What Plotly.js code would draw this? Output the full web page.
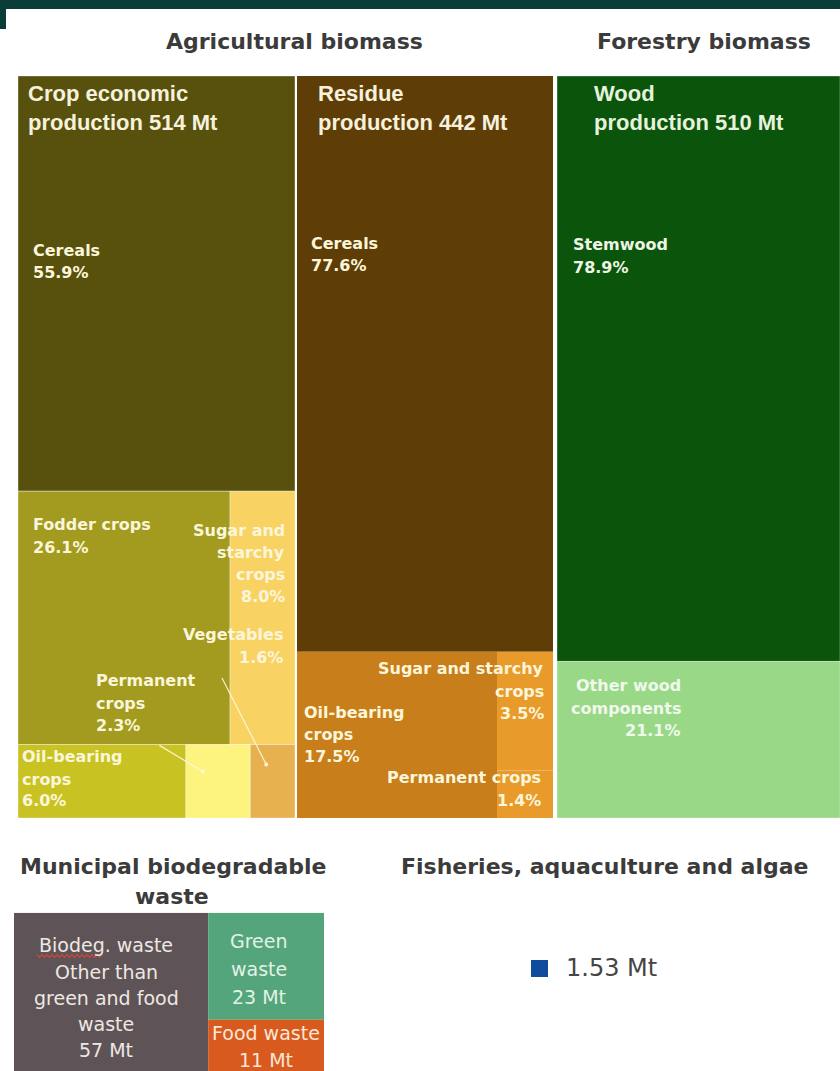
<!DOCTYPE html>
<html>
<head>
<meta charset="utf-8">
<script src="https://cdn.plot.ly/plotly-3.0.1.min.js"></script>
<style>
  html, body { margin: 0; padding: 0; background: #ffffff; }
  #chart { width: 840px; height: 1071px; }
</style>
</head>
<body>
<div id="chart"></div>
<script>
// ---------------------------------------------------------------
// Data
// ---------------------------------------------------------------
// Agricultural biomass - crop economic production (share of total, %)
const cropTotalMt = 514;
const cropCategories = ['Cereals', 'Fodder crops', 'Sugar and starchy crops', 'Vegetables', 'Permanent crops', 'Oil-bearing crops'];
const cropShares = [55.9, 26.1, 8.0, 1.6, 2.3, 6.0];

// Agricultural biomass - residue production (share of total, %)
const residueTotalMt = 442;
const residueCategories = ['Cereals', 'Oil-bearing crops', 'Sugar and starchy crops', 'Permanent crops'];
const residueShares = [77.6, 17.5, 3.5, 1.4];

// Forestry biomass - wood production (share of total, %)
const woodTotalMt = 510;
const woodCategories = ['Stemwood', 'Other wood components'];
const woodShares = [78.9, 21.1];

// Municipal biodegradable waste (Mt)
const wasteCategories = ['Biodeg. waste other than green and food waste', 'Green waste', 'Food waste'];
const wasteMt = [57, 23, 11];

// Fisheries, aquaculture and algae (Mt)
const fisheriesMt = 1.53;

// ---------------------------------------------------------------
// Helpers
// ---------------------------------------------------------------
const W = 840, H = 1071;
const sum = a => a.reduce((s, v) => s + v, 0);
const pick = (cats, vals, name) => vals[cats.indexOf(name)];
const pct = v => v.toFixed(1) + '%';

// Lay out a list of names side by side across a horizontal band [y0, y1]
function sliceRow(names, valueOf, x0, x1, y0, y1, out) {
  const total = sum(names.map(valueOf));
  let x = x0;
  names.forEach(n => {
    const w = (x1 - x0) * valueOf(n) / total;
    out[n] = { x0: x, x1: x + w, y0, y1 };
    x += w;
  });
}
// Stack a list of names from top to bottom inside a vertical band [x0, x1]
function sliceCol(names, valueOf, x0, x1, y0, y1, out) {
  const total = sum(names.map(valueOf));
  let y = y0;
  names.forEach(n => {
    const h = (y1 - y0) * valueOf(n) / total;
    out[n] = { x0, x1, y0: y, y1: y + h };
    y += h;
  });
}

// Crop economic production: cereals on top, two rows underneath
function cropCells() {
  const v = n => pick(cropCategories, cropShares, n);
  const cells = {};
  const yC = v('Cereals') / sum(cropShares);
  cells['Cereals'] = { x0: 0, x1: 1, y0: 0, y1: yC };
  const upper = ['Fodder crops', 'Sugar and starchy crops'];
  const lower = ['Oil-bearing crops', 'Permanent crops', 'Vegetables'];
  const su = sum(upper.map(v)), sl = sum(lower.map(v));
  const yRow = yC + (1 - yC) * su / (su + sl);
  sliceRow(upper, v, 0, 1, yC, yRow, cells);
  sliceRow(lower, v, 0, 1, yRow, 1, cells);
  return cells;
}

// Residue production: cereals on top, oil-bearing left, small items stacked right
function residueCells() {
  const v = n => pick(residueCategories, residueShares, n);
  const cells = {};
  const yC = v('Cereals') / sum(residueShares);
  cells['Cereals'] = { x0: 0, x1: 1, y0: 0, y1: yC };
  const right = ['Sugar and starchy crops', 'Permanent crops'];
  const sr = sum(right.map(v));
  const xSplit = v('Oil-bearing crops') / (v('Oil-bearing crops') + sr);
  cells['Oil-bearing crops'] = { x0: 0, x1: xSplit, y0: yC, y1: 1 };
  sliceCol(right, v, xSplit, 1, yC, 1, cells);
  return cells;
}

function woodCells() {
  const v = n => pick(woodCategories, woodShares, n);
  const cells = {};
  sliceCol(woodCategories, v, 0, 1, 0, 1, cells);
  return cells;
}

function wasteCells() {
  const v = n => pick(wasteCategories, wasteMt, n);
  const cells = {};
  const xSplit = wasteMt[0] / sum(wasteMt);
  cells[wasteCategories[0]] = { x0: 0, x1: xSplit, y0: 0, y1: 1 };
  sliceCol(wasteCategories.slice(1), v, xSplit, 1, 0, 1, cells);
  return cells;
}

const shapes = [];
const annotations = [];

function addCells(axisId, cells, colors, edge) {
  const yId = axisId.replace('x', 'y');
  Object.keys(colors).forEach(name => {
    const c = cells[name];
    shapes.push({
      type: 'rect', xref: axisId, yref: yId,
      x0: c.x0, x1: c.x1, y0: c.y0, y1: c.y1,
      fillcolor: colors[name],
      line: edge ? { color: edge, width: 1 } : { width: 0 },
      layer: 'below'
    });
  });
}

// Multi-line label: one annotation per line so the line spacing is exact
function addLabel(axisId, cell, o) {
  const yId = axisId.replace('x', 'y');
  const side = o.side || 'left';
  const x = side === 'left' ? cell.x0 : side === 'right' ? cell.x1 : (cell.x0 + cell.x1) / 2;
  o.lines.forEach((t, i) => {
    annotations.push({
      xref: axisId, yref: yId, x: x, y: cell.y0,
      xanchor: side, yanchor: 'middle',
      xshift: o.dx || 0, yshift: -o.dy[i],
      text: t, showarrow: false, borderpad: 0,
      font: {
        family: o.family || 'DejaVu Sans', size: o.size || 16,
        weight: o.weight || 'bold', color: o.color || '#fbf6da'
      }
    });
  });
}

function addPointer(axisId, cell, dx, dy, ax, ay) {
  const yId = axisId.replace('x', 'y');
  annotations.push({
    xref: axisId, yref: yId, x: cell.x0, y: cell.y0,
    xshift: dx, yshift: -dy, text: '', showarrow: true,
    ax: ax, ay: ay, arrowhead: 6, arrowsize: 0.8, arrowwidth: 1.2,
    arrowcolor: 'rgba(255,250,225,0.9)', standoff: 0, startstandoff: 0
  });
}

// ---------------------------------------------------------------
// Agricultural biomass - crop economic production (axis x / y)
// ---------------------------------------------------------------
const crop = cropCells();
addCells('x', crop, {
  'Cereals': '#57510d',
  'Fodder crops': '#a29b1f',
  'Sugar and starchy crops': '#f9d264',
  'Oil-bearing crops': '#c8c323',
  'Permanent crops': '#fcf47f',
  'Vegetables': '#e8b150'
}, 'rgba(255,255,255,0.35)');
const cv = n => pick(cropCategories, cropShares, n);
addLabel('x', crop['Cereals'], { family: 'Liberation Sans', size: 22, weight: 'bold', color: '#f6f1dc',
  dx: 9, dy: [18, 47], lines: ['Crop economic', 'production ' + cropTotalMt + ' Mt'] });
addLabel('x', crop['Cereals'], { dx: 14, dy: [175, 196], lines: ['Cereals', pct(cv('Cereals'))] });
addLabel('x', crop['Fodder crops'], { dx: 14, dy: [33, 56], lines: ['Fodder crops', pct(cv('Fodder crops'))] });
addLabel('x', crop['Sugar and starchy crops'], { side: 'right', dx: -9, dy: [39, 61, 83, 105],
  lines: ['Sugar and', 'starchy', 'crops', pct(cv('Sugar and starchy crops'))] });
addLabel('x', crop['Vegetables'], { side: 'right', dx: -11, dy: [-110, -87],
  lines: ['Vegetables', pct(cv('Vegetables'))] });
addLabel('x', crop['Permanent crops'], { dx: -91, dy: [-64, -41, -19],
  lines: ['Permanent', 'crops', pct(cv('Permanent crops'))] });
addLabel('x', crop['Oil-bearing crops'], { dx: 3, dy: [12.5, 35.5, 56.5],
  lines: ['Oil-bearing', 'crops', pct(cv('Oil-bearing crops'))] });
addPointer('x', crop['Vegetables'], 16, 20, -45, -88);
addPointer('x', crop['Permanent crops'], 17, 27, -45, -27);

// ---------------------------------------------------------------
// Agricultural biomass - residue production (axis x2 / y2)
// ---------------------------------------------------------------
const res = residueCells();
addCells('x2', res, {
  'Cereals': '#5f3d07',
  'Oil-bearing crops': '#c87e1a',
  'Sugar and starchy crops': '#e89b2a',
  'Permanent crops': '#e89b2a'
});
const rv = n => pick(residueCategories, residueShares, n);
addLabel('x2', res['Cereals'], { family: 'Liberation Sans', size: 22, weight: 'bold', color: '#f6f1dc',
  dx: 20, dy: [18, 47], lines: ['Residue', 'production ' + residueTotalMt + ' Mt'] });
addLabel('x2', res['Cereals'], { dx: 13, dy: [168, 189], lines: ['Cereals', pct(rv('Cereals'))] });
addLabel('x2', res['Sugar and starchy crops'], { side: 'right', dx: -8, dy: [17, 40, 62],
  lines: ['Sugar and starchy', 'crops', pct(rv('Sugar and starchy crops'))] });
addLabel('x2', res['Oil-bearing crops'], { dx: 6, dy: [61, 83, 105],
  lines: ['Oil-bearing', 'crops', pct(rv('Oil-bearing crops'))] });
addLabel('x2', res['Permanent crops'], { side: 'right', dx: -11, dy: [7, 30],
  lines: ['Permanent crops', pct(rv('Permanent crops'))] });

// ---------------------------------------------------------------
// Forestry biomass - wood production (axis x3 / y3)
// ---------------------------------------------------------------
const wood = woodCells();
addCells('x3', wood, {
  'Stemwood': '#0b540b',
  'Other wood components': '#98d886'
}, 'rgba(255,255,255,0.35)');
const wv = n => pick(woodCategories, woodShares, n);
addLabel('x3', wood['Stemwood'], { family: 'Liberation Sans', size: 22, weight: 'bold', color: '#e6f2de',
  dx: 36, dy: [18, 47], lines: ['Wood', 'production ' + woodTotalMt + ' Mt'] });
addLabel('x3', wood['Stemwood'], { dx: 15, dy: [169, 191], color: '#eef6e6',
  lines: ['Stemwood', pct(wv('Stemwood'))] });
{
  const c = wood['Other wood components'];
  addLabel('x3', { x0: c.x0, x1: c.x0, y0: c.y0 }, { side: 'right', dx: 125, dy: [24, 47, 69], color: '#f0f9ec',
    lines: ['Other wood', 'components', pct(wv('Other wood components'))] });
}

// ---------------------------------------------------------------
// Municipal biodegradable waste (axis x4 / y4)
// ---------------------------------------------------------------
const waste = wasteCells();
addCells('x4', waste, {
  [wasteCategories[0]]: '#5e5457',
  'Green waste': '#54a47c',
  'Food waste': '#d95a1e'
});
addLabel('x4', waste[wasteCategories[0]], { side: 'center', dx: -5, dy: [32, 59, 85, 111, 137],
  size: 19, weight: 'normal', color: '#eee8e2',
  lines: ['Biodeg. waste', 'Other than', 'green and food', 'waste', wasteMt[0] + ' Mt'] });
addLabel('x4', waste['Green waste'], { side: 'center', dx: -7, dy: [28, 56, 84],
  size: 19, weight: 'normal', color: '#e2f2e6',
  lines: ['Green', 'waste', wasteMt[1] + ' Mt'] });
addLabel('x4', waste['Food waste'], { side: 'center', dx: 0, dy: [13, 40],
  size: 19, weight: 'normal', color: '#fbe6d6',
  lines: ['Food waste', wasteMt[2] + ' Mt'] });

// wavy underline beneath "Biodeg"
{
  let d = '';
  const x0 = 37, x1 = 104, yb = 956;
  for (let x = x0, i = 0; x <= x1; x += 2.5, i++) {
    const y = yb + (i % 2 ? 1.3 : -1.3);
    d += (i ? ' L ' : 'M ') + (x / W).toFixed(5) + ',' + (1 - y / H).toFixed(5);
  }
  shapes.push({ type: 'path', xref: 'paper', yref: 'paper', path: d,
    line: { color: '#d8433c', width: 1.2 }, layer: 'above' });
}

// ---------------------------------------------------------------
// Header band and section titles
// ---------------------------------------------------------------
shapes.push({ type: 'rect', xref: 'paper', yref: 'paper', x0: 0, x1: 1, y0: 1 - 9 / H, y1: 1,
  fillcolor: '#0a3c38', line: { width: 0 } });
shapes.push({ type: 'rect', xref: 'paper', yref: 'paper', x0: 0, x1: 6 / W, y0: 1 - 29 / H, y1: 1,
  fillcolor: '#0a3c38', line: { width: 0 } });

function title(text, cx, cy) {
  annotations.push({
    xref: 'paper', yref: 'paper', x: cx / W, y: 1 - cy / H,
    xanchor: 'center', yanchor: 'middle', showarrow: false, text: text,
    font: { family: 'DejaVu Sans', size: 22, weight: 'bold', color: '#3b3b3b' }
  });
}
title('Agricultural biomass', 294, 42);
title('Forestry biomass', 704, 42);
title('Municipal biodegradable', 173, 866);
title('waste', 172, 896);
title('Fisheries, aquaculture and algae', 604, 866);

// Fisheries value label
annotations.push({
  xref: 'x5', yref: 'y5', x: 0, y: 0, xanchor: 'left', yanchor: 'middle',
  xshift: 24, yshift: 1, showarrow: false, text: fisheriesMt.toFixed(2) + ' Mt',
  font: { family: 'DejaVu Sans', size: 24, color: '#454545' }
});

// ---------------------------------------------------------------
// Axes (hidden) - each panel gets its own domain
// ---------------------------------------------------------------
const topDom = [1 - 818 / H, 1 - 76 / H];
function xa(d, anchor, range) {
  return { domain: d, range: range || [0, 1], visible: false, fixedrange: true, anchor: anchor };
}
function ya(d, anchor, range) {
  return { domain: d, range: range || [1, 0], visible: false, fixedrange: true, anchor: anchor };
}

const layout = {
  width: W, height: H,
  margin: { l: 0, r: 0, t: 0, b: 0, pad: 0 },
  paper_bgcolor: '#ffffff', plot_bgcolor: 'rgba(0,0,0,0)',
  showlegend: false,
  xaxis: xa([18 / W, 295 / W], 'y'),
  yaxis: ya(topDom, 'x'),
  xaxis2: xa([297 / W, 553 / W], 'y2'),
  yaxis2: ya(topDom, 'x2'),
  xaxis3: xa([557 / W, 1], 'y3'),
  yaxis3: ya(topDom, 'x3'),
  xaxis4: xa([14 / W, 324 / W], 'y4'),
  yaxis4: ya([0, 1 - 912.7 / H], 'x4'),
  xaxis5: xa([439.5 / W, 639.5 / W], 'y5', [-1, 1]),
  yaxis5: ya([1 - 1018.5 / H, 1 - 918.5 / H], 'x5', [-1, 1]),
  shapes: shapes,
  annotations: annotations
};

const empty = (xid, yid) => ({ type: 'scatter', x: [], y: [], xaxis: xid, yaxis: yid, hoverinfo: 'skip', showlegend: false });
const traces = [
  empty('x', 'y'), empty('x2', 'y2'), empty('x3', 'y3'), empty('x4', 'y4'),
  {
    type: 'scatter', mode: 'markers', x: [0], y: [0], xaxis: 'x5', yaxis: 'y5',
    marker: { symbol: 'square', size: 17, color: '#0f4c9e', line: { width: 0 } },
    hoverinfo: 'skip', showlegend: false
  }
];

Plotly.newPlot('chart', traces, layout, { staticPlot: true, displayModeBar: false });
</script>
</body>
</html>
